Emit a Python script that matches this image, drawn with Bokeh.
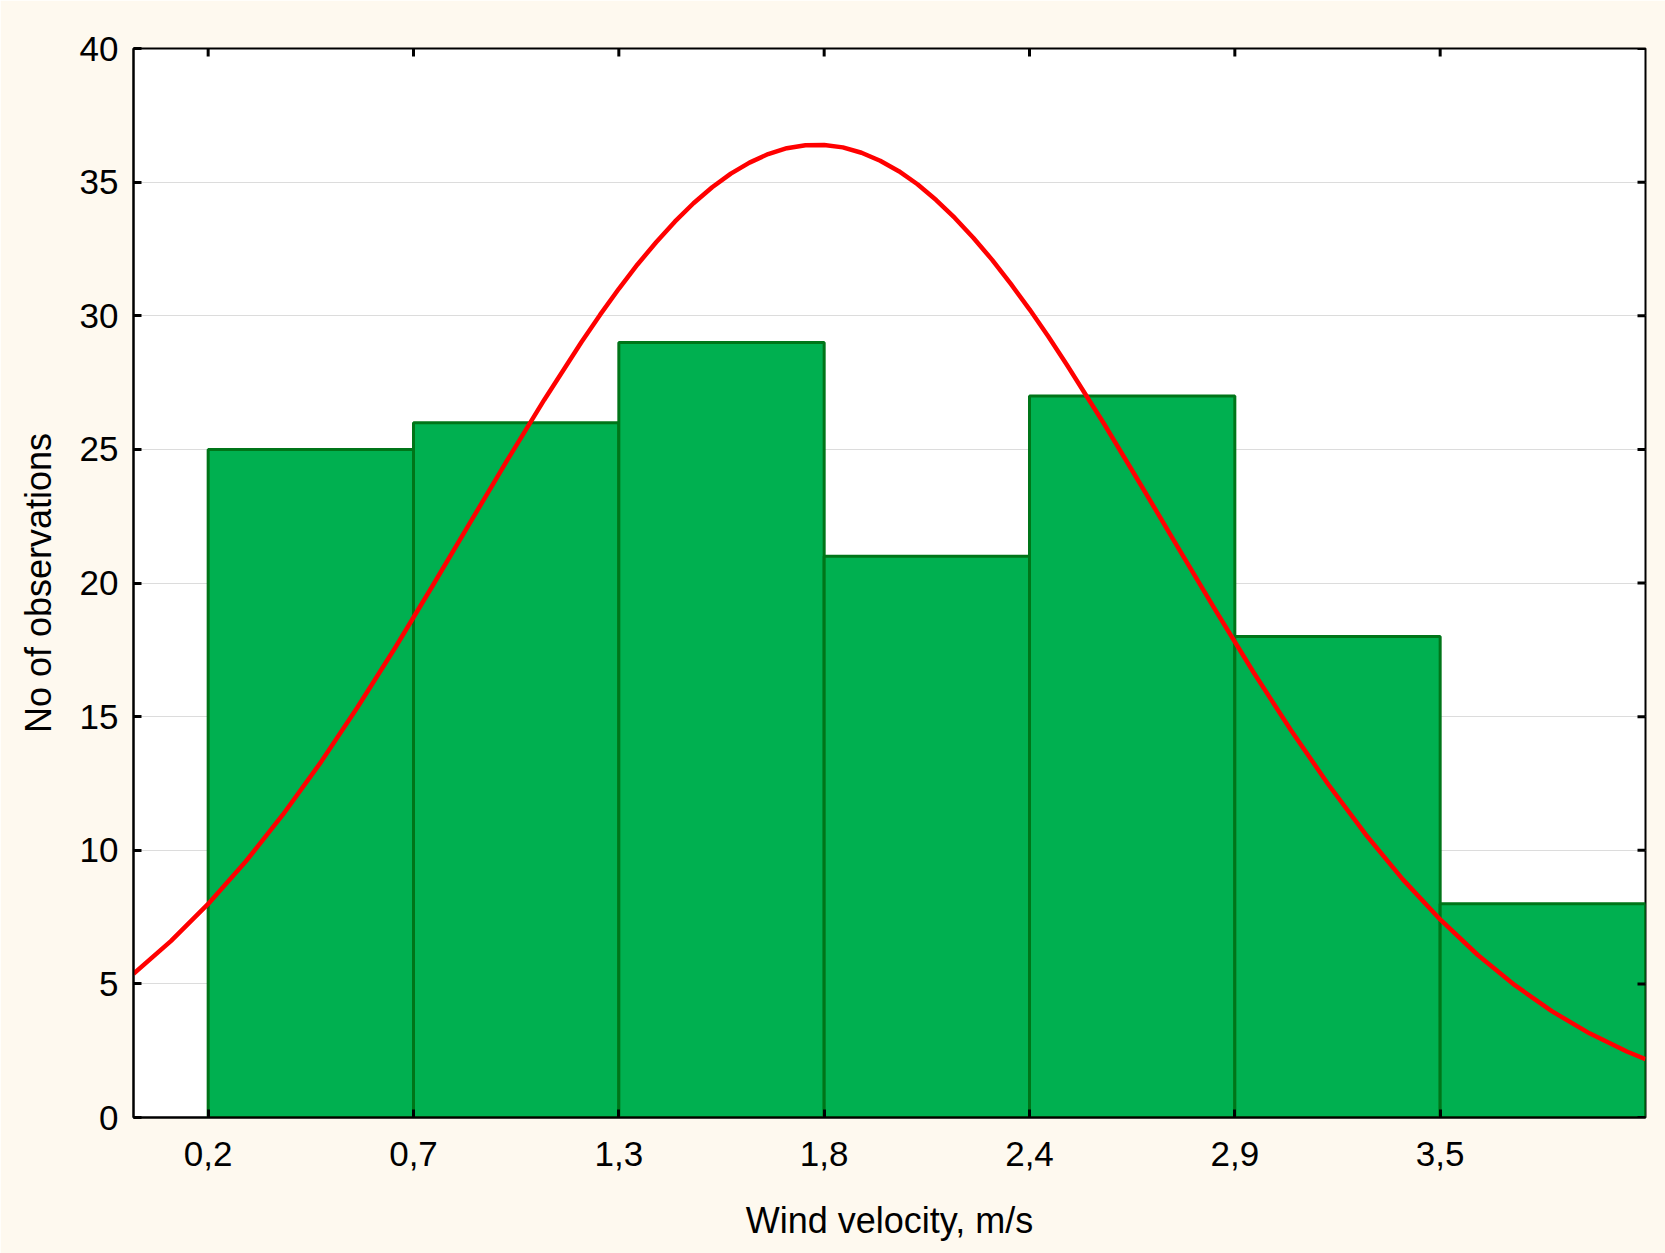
import math
from bokeh.plotting import figure
from bokeh.models import Range1d, FixedTicker
from bokeh.embed import file_html
from bokeh.resources import INLINE

# Histogram bins (wind velocity, m/s)
bin_left = [0.2, 0.75, 1.3, 1.85, 2.4, 2.95, 3.5]
bin_right = [0.75, 1.3, 1.85, 2.4, 2.95, 3.5, 4.05]
counts = [25, 26, 29, 21, 27, 18, 8]

# Tick positions and labels
x_ticks = [0.2, 0.75, 1.3, 1.85, 2.4, 2.95, 3.5]
x_tick_labels = ["0,2", "0,7", "1,3", "1,8", "2,4", "2,9", "3,5"]
y_ticks = [0, 5, 10, 15, 20, 25, 30, 35, 40]
x_min, x_max = 0.0, 4.05
y_min, y_max = 0, 40

# Fitted normal curve
curve_x = [0.0, 0.1, 0.2, 0.3, 0.4, 0.5, 0.6, 0.7, 0.8, 0.9, 1.0, 1.1, 1.2, 1.25,
           1.3, 1.35, 1.4, 1.45, 1.5, 1.55, 1.6, 1.65, 1.7, 1.75, 1.8, 1.85, 1.9,
           1.95, 2.0, 2.05, 2.1, 2.15, 2.2, 2.25, 2.3, 2.35, 2.4, 2.45, 2.5, 2.6,
           2.7, 2.8, 2.9, 3.0, 3.1, 3.2, 3.3, 3.4, 3.5, 3.6, 3.7, 3.8, 3.9, 4.0, 4.05]
curve_y = [5.38, 6.60, 7.99, 9.57, 11.33, 13.26, 15.35, 17.56, 19.87, 22.22,
           24.57, 26.85, 29.02, 30.04, 31.01, 31.92, 32.75, 33.52, 34.21, 34.81,
           35.32, 35.73, 36.05, 36.27, 36.38, 36.39, 36.30, 36.10, 35.80, 35.41,
           34.92, 34.33, 33.66, 32.91, 32.09, 31.19, 30.24, 29.23, 28.17, 25.95,
           23.63, 21.28, 18.94, 16.66, 14.50, 12.47, 10.60, 8.91, 7.41, 6.09,
           4.95, 3.97, 3.15, 2.47, 2.18]

FONT = "Liberation Sans"
CREAM = "#FEF9EF"

p = figure(width=1665, height=1253, output_backend="svg", toolbar_location=None,
           x_range=Range1d(x_min, x_max), y_range=Range1d(y_min, y_max),
           min_border_left=133, min_border_right=20, min_border_top=48,
           min_border_bottom=136)
p.background_fill_color = "white"
p.border_fill_color = CREAM
p.outline_line_color = "black"
p.outline_line_width = 2

p.quad(left=bin_left, right=bin_right, bottom=0, top=counts,
       fill_color="#00B050", line_color="#007519", line_width=3)
p.line(curve_x, curve_y, line_color="#FF0000", line_width=4.5, line_join="round")

# mirrored inner ticks on the top and right frame edges
p.scatter(x=x_ticks, y=[y_max] * len(x_ticks), marker="dash", size=16,
          angle=math.pi / 2, line_color="black", line_width=3)
p.scatter(x=[x_max] * len(y_ticks), y=y_ticks, marker="dash", size=16,
          line_color="black", line_width=3)

# grid
p.xgrid.visible = False
p.ygrid.ticker = FixedTicker(ticks=y_ticks)
p.ygrid.grid_line_color = "#DCDCDC"
p.ygrid.grid_line_width = 1

def style(ax):
    ax.axis_line_color = "black"
    ax.axis_line_width = 2
    ax.major_tick_in = 8
    ax.major_tick_out = 0
    ax.major_tick_line_width = 3
    ax.major_tick_line_color = "black"
    ax.minor_tick_line_color = None
    ax.major_label_text_font = FONT
    ax.major_label_text_font_size = "35px"
    ax.major_label_text_color = "black"
    ax.axis_label_text_font = FONT
    ax.axis_label_text_font_size = "36px"
    ax.axis_label_text_font_style = "normal"
    ax.axis_label_text_color = "black"

xa = p.xaxis[0]
xa.ticker = FixedTicker(ticks=x_ticks)
xa.major_label_overrides = {t: l for t, l in zip(x_ticks, x_tick_labels)}
xa.axis_label = "Wind velocity, m/s"
style(xa)
xa.major_label_standoff = 24
xa.axis_label_standoff = 31

ya = p.yaxis[0]
ya.ticker = FixedTicker(ticks=y_ticks)
ya.axis_label = "No of observations"
style(ya)
ya.major_label_standoff = 15
ya.axis_label_standoff = 18

open("out.html", "w").write(file_html(p, INLINE))
